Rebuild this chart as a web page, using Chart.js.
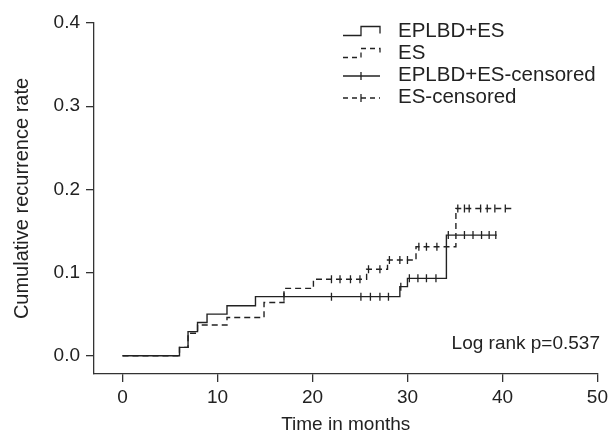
<!DOCTYPE html>
<html>
<head>
<meta charset="utf-8">
<script src="https://cdn.jsdelivr.net/npm/chart.js@4/dist/chart.umd.min.js"></script>
<style>
  html, body { margin: 0; padding: 0; background: #fff; }
  #wrap { width: 612px; height: 441px; position: relative; }
</style>
</head>
<body>
<div id="wrap"><canvas id="kmChart"></canvas></div>
<script>
// Courbes de récidive cumulée (Kaplan-Meier)
const groupNames = ['EPLBD+ES', 'ES', 'EPLBD+ES-censored', 'ES-censored'];

const eplbdTimes = [0, 6.0, 6.9, 7.9, 8.9, 11.0, 14.0, 29.2, 30.0, 34.1, 39.4];
const eplbdRates = [0, 0.010, 0.029, 0.040, 0.050, 0.060, 0.071, 0.083, 0.093, 0.145, 0.145];

const esTimes = [0, 6.0, 6.9, 7.9, 11.0, 14.9, 17.0, 20.1, 25.7, 27.9, 30.9, 35.1, 41.3];
const esRates = [0, 0.010, 0.027, 0.037, 0.046, 0.064, 0.081, 0.092, 0.104, 0.115, 0.131, 0.177, 0.177];

const eplbdCensorTimes = [17.0, 22.0, 25.1, 26.1, 27.1, 28.0, 29.3, 30.2, 31.1, 32.0, 33.0, 34.3, 36.0, 36.9, 37.8, 38.6, 39.3];
const eplbdCensorRates = [0.071, 0.071, 0.071, 0.071, 0.071, 0.071, 0.083, 0.093, 0.093, 0.093, 0.093, 0.145, 0.145, 0.145, 0.145, 0.145, 0.145];

const esCensorTimes = [22.0, 22.9, 24.0, 25.0, 25.9, 27.1, 28.1, 29.2, 30.0, 31.2, 32.0, 33.1, 35.3, 36.0, 36.5, 37.7, 38.4, 39.2, 40.3];
const esCensorRates = [0.092, 0.092, 0.092, 0.092, 0.104, 0.104, 0.115, 0.115, 0.115, 0.131, 0.131, 0.131, 0.177, 0.177, 0.177, 0.177, 0.177, 0.177, 0.177];

const xTicks = [0, 10, 20, 30, 40, 50];
const yTicks = [0, 0.1, 0.2, 0.3, 0.4];
const logRankText = 'Log rank p=0.537';

const INK = '#222';
const FONT = '"Liberation Sans", Arial, sans-serif';
const FONT_SIZE = 19;
const LEGEND_FONT_SIZE = 20.5;

function toPoints(xs, ys) {
    return xs.map((x, i) => ({ x: x, y: ys[i] }));
}

// Légende et texte du test du log-rank, dessinés à la main
const annotationsPlugin = {
    id: 'kmAnnotations',
    afterDraw(chart) {
        const ctx = chart.ctx;
        ctx.save();
        ctx.strokeStyle = INK;
        ctx.fillStyle = INK;
        ctx.lineWidth = 1.3;
        ctx.font = LEGEND_FONT_SIZE + 'px ' + FONT;
        ctx.textBaseline = 'middle';
        ctx.textAlign = 'left';

        const rows = [31, 53, 75, 97];
        const x0 = 343, xm = 361, x1 = 380, textX = 398;

        rows.forEach((y, i) => {
            ctx.setLineDash(i % 2 === 1 ? [5, 4] : []);
            ctx.beginPath();
            if (i < 2) {
                ctx.moveTo(x0, y + 4.5);
                ctx.lineTo(xm, y + 4.5);
                ctx.lineTo(xm, y - 4.5);
                ctx.lineTo(x1, y - 4.5);
                ctx.lineTo(x1, y + 2.5);
            } else {
                ctx.moveTo(x0, y + 1);
                ctx.lineTo(x1, y + 1);
            }
            ctx.stroke();
            if (i >= 2) {
                ctx.setLineDash([]);
                ctx.beginPath();
                ctx.moveTo(xm, y - 3);
                ctx.lineTo(xm, y + 5);
                ctx.stroke();
            }
            ctx.fillText(groupNames[i], textX, y);
        });

        ctx.font = FONT_SIZE + 'px ' + FONT;
        ctx.textAlign = 'right';
        ctx.fillText(logRankText, 600, 344);
        ctx.restore();
    }
};

const lineStyle = {
    borderColor: INK,
    borderWidth: 1.4,
    pointRadius: 0,
    stepped: 'before',
    fill: false
};

const censorStyle = {
    type: 'scatter',
    borderColor: INK,
    backgroundColor: INK,
    pointStyle: 'line',
    rotation: 90,
    pointRadius: 4,
    borderWidth: 1.3,
    showLine: false
};

document.addEventListener('DOMContentLoaded', function() {
    if (typeof Chart === 'undefined') {
        console.error('Chart.js n\'est pas chargé.');
        return;
    }

    new Chart(document.getElementById('kmChart'), {
        type: 'line',
        data: {
            datasets: [
                Object.assign({ label: groupNames[1], data: toPoints(esTimes, esRates), borderDash: [6, 4] }, lineStyle),
                Object.assign({ label: groupNames[0], data: toPoints(eplbdTimes, eplbdRates) }, lineStyle),
                Object.assign({ label: groupNames[2], data: toPoints(eplbdCensorTimes, eplbdCensorRates) }, censorStyle),
                Object.assign({ label: groupNames[3], data: toPoints(esCensorTimes, esCensorRates) }, censorStyle)
            ]
        },
        options: {
            responsive: true,
            maintainAspectRatio: false,
            animation: false,
            devicePixelRatio: 1,
            layout: { padding: { left: 0, right: 13, top: 23, bottom: 0 } },
            plugins: {
                legend: { display: false },
                tooltip: { enabled: false }
            },
            scales: {
                x: {
                    type: 'linear',
                    min: -3,
                    max: 50,
                    afterBuildTicks: (scale) => { scale.ticks = xTicks.map(v => ({ value: v })); },
                    afterFit: (scale) => { scale.height = 67; },
                    border: { display: true, color: '#333', width: 1.3 },
                    grid: { drawOnChartArea: false, drawTicks: true, tickLength: 8, color: '#333', lineWidth: 1.3 },
                    ticks: {
                        color: INK,
                        padding: 4,
                        maxRotation: 0,
                        font: { family: FONT, size: FONT_SIZE },
                        callback: (v) => String(v)
                    },
                    title: {
                        display: true,
                        text: 'Time in months',
                        color: INK,
                        font: { family: FONT, size: FONT_SIZE },
                        padding: { top: 0, bottom: 5 }
                    }
                },
                y: {
                    type: 'linear',
                    min: -0.022,
                    max: 0.4,
                    afterBuildTicks: (scale) => { scale.ticks = yTicks.map(v => ({ value: v })); },
                    afterFit: (scale) => { scale.width = 94; },
                    border: { display: true, color: '#333', width: 1.3 },
                    grid: { drawOnChartArea: false, drawTicks: true, tickLength: 8, color: '#333', lineWidth: 1.3 },
                    ticks: {
                        color: INK,
                        padding: 6,
                        font: { family: FONT, size: FONT_SIZE },
                        callback: (v) => Number(v).toFixed(1)
                    },
                    title: {
                        display: true,
                        text: 'Cumulative recurrence rate',
                        color: INK,
                        font: { family: FONT, size: 20 },
                        padding: { top: 10, bottom: 0 }
                    }
                }
            }
        },
        plugins: [annotationsPlugin]
    });
});
</script>
</body>
</html>
